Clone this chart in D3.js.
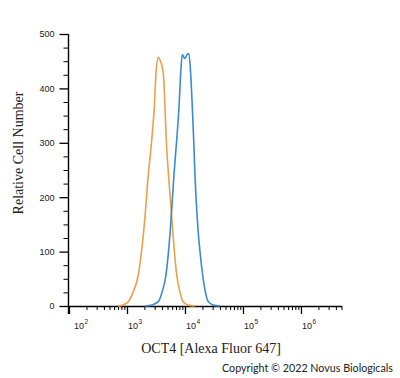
<!DOCTYPE html>
<html>
<head>
<meta charset="utf-8">
<script src="https://cdn.jsdelivr.net/npm/d3@7"></script>
<style>
  html, body { margin: 0; padding: 0; background: #ffffff; }
  svg { display: block; }
</style>
</head>
<body>
<svg id="chart" width="400" height="378"></svg>
<script>
// ---- data ----
const isotypeIntensity = [700, 853, 1053, 1268, 1567, 1778, 1987, 2328, 2667, 2958, 3162, 3467, 3707, 4227, 4519, 4760, 5200, 6039, 7194, 8204, 9247, 11272, 14859];
const isotypeCount     = [0,   2,   8,    25,   57,   100,  149,  241,  305,  366,  428,  457,  452,  428,  366,  305,  241,  149,  57,   25,   8,    2,     0];

const oct4Intensity = [2042, 2698, 3467, 4009, 4699, 5200, 5662, 6457, 7194, 7889, 8433, 8974, 9886, 11041, 11641, 12531, 13366, 14125, 14859, 16558, 18155, 20184, 22542, 25235, 30409, 40087];
const oct4Count     = [0,    2,    8,    25,   57,   100,  149,  241,  305,  366,  428,  462,  455,  463,   464,   428,   366,   305,   241,   149,   100,   57,    25,    8,     2,     0];

const xTickValues = [1e2, 1e3, 1e4, 1e5, 1e6];
const xTickBase = ["10", "10", "10", "10", "10"];
const xTickExponents = ["2", "3", "4", "5", "6"];
const yTickValues = [0, 100, 200, 300, 400, 500];
const yMinorTickValues = [25, 50, 75, 125, 150, 175, 225, 250, 275, 325, 350, 375, 425, 450, 475];

const xTitle = "OCT4 [Alexa Fluor 647]";
const yTitle = "Relative Cell Number";
const credit = "Copyright \u00A9 2022 Novus Biologicals";

// ---- layout ----
const svg = d3.select("#chart");
const x = d3.scaleLog().domain([100, 5e6]).range([69, 341.5]);
const y = d3.scaleLinear().domain([0, 500]).range([306, 34]);

const axisColor = "#000";

// y axis
const yAxisG = svg.append("g").attr("transform", "translate(68.5,0)");
yAxisG.call(d3.axisLeft(y).tickValues(yTickValues).tickSize(9).tickPadding(5).tickSizeOuter(0));
yAxisG.select(".domain").remove();
yAxisG.selectAll("text").attr("font-family", "Liberation Sans, Arial, sans-serif").attr("font-size", 9).attr("fill", "#222");
yAxisG.selectAll("line").attr("stroke", axisColor).attr("stroke-width", 1.3);

const yMinorG = svg.append("g").attr("transform", "translate(68.5,0)");
yMinorG.call(d3.axisLeft(y).tickValues(yMinorTickValues).tickSize(5).tickFormat(""));
yMinorG.select(".domain").remove();
yMinorG.selectAll("line").attr("stroke", axisColor).attr("stroke-width", 1);

svg.append("line")
  .attr("x1", 68.5).attr("x2", 68.5)
  .attr("y1", y(500)).attr("y2", 314)
  .attr("stroke", axisColor).attr("stroke-width", 1.4);

// x axis
const xAxisG = svg.append("g").attr("transform", "translate(0,306)");
xAxisG.call(d3.axisBottom(x).tickValues(xTickValues).tickSize(8).tickFormat("").tickSizeOuter(0));
xAxisG.select(".domain").attr("stroke", axisColor).attr("stroke-width", 1.4);
xAxisG.selectAll("line").attr("stroke", axisColor).attr("stroke-width", 1.3);

const minorX = x.ticks().filter(v => !xTickValues.includes(v));
const xMinorG = svg.append("g").attr("transform", "translate(0,306)");
xMinorG.call(d3.axisBottom(x).tickValues(minorX).tickSize(4).tickFormat(""));
xMinorG.select(".domain").remove();
xMinorG.selectAll("line").attr("stroke", axisColor).attr("stroke-width", 1);

// x tick labels with superscripts
const xLab = svg.append("g").attr("font-family", "Liberation Sans, Arial, sans-serif").attr("fill", "#222");
xTickValues.forEach((v, i) => {
  const t = xLab.append("text")
    .attr("x", x(v) + (i === 0 ? 5 : 1))
    .attr("y", 329)
    .attr("font-size", 9);
  t.append("tspan").text(xTickBase[i]);
  t.append("tspan").attr("dy", -5).attr("dx", 0.5).attr("font-size", 6.5).text(xTickExponents[i]);
});

// curves
const line = d3.line().curve(d3.curveMonotoneX);
const isoPts = isotypeIntensity.map((v, i) => [x(v), y(isotypeCount[i])]);
const octPts = oct4Intensity.map((v, i) => [x(v), y(oct4Count[i])]);

svg.append("path").attr("d", line(isoPts))
  .attr("fill", "none").attr("stroke", "#eda04a").attr("stroke-width", 1.6).attr("stroke-linejoin", "round");
svg.append("path").attr("d", line(octPts))
  .attr("fill", "none").attr("stroke", "#3a8bd4").attr("stroke-width", 1.6).attr("stroke-linejoin", "round");

// titles
svg.append("text")
  .attr("transform", "translate(23,153) rotate(-90)")
  .attr("text-anchor", "middle")
  .attr("font-family", "Liberation Serif, Times New Roman, serif")
  .attr("font-size", 14)
  .attr("fill", "#222")
  .text(yTitle);

svg.append("text")
  .attr("x", 211).attr("y", 353)
  .attr("text-anchor", "middle")
  .attr("font-family", "Liberation Serif, Times New Roman, serif")
  .attr("font-size", 14)
  .attr("fill", "#222")
  .text(xTitle);

svg.append("text")
  .attr("x", 222).attr("y", 372)
  .attr("font-family", "Lato, DejaVu Sans, sans-serif")
  .attr("font-size", 10.5)
  .attr("fill", "#222")
  .attr("textLength", 171)
  .attr("lengthAdjust", "spacingAndGlyphs")
  .text(credit);
</script>
</body>
</html>
